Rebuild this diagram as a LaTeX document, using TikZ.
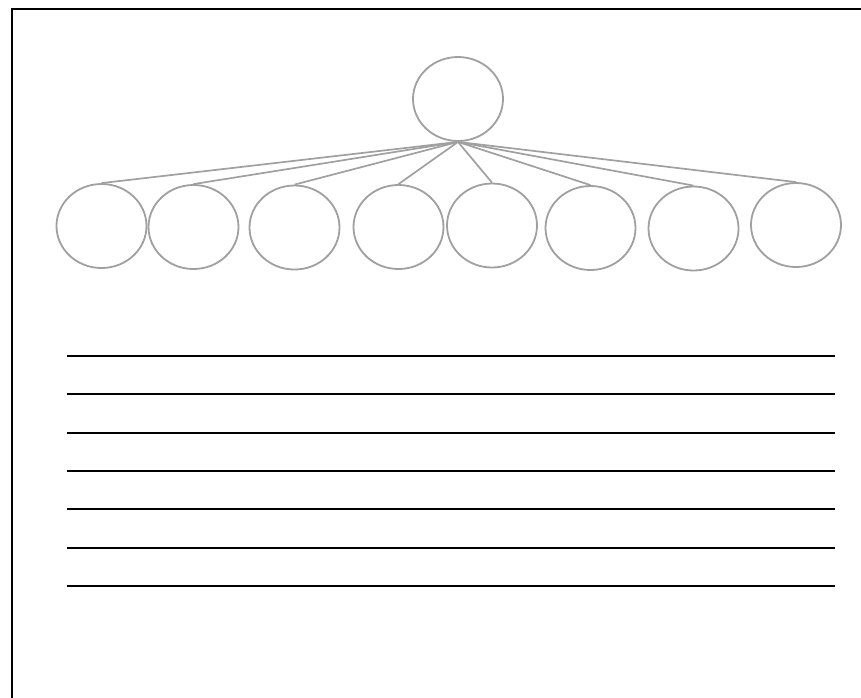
\documentclass[tikz,border=0pt]{standalone}
\usetikzlibrary{shapes.geometric}
\definecolor{circgray}{HTML}{A0A0A0}
\begin{document}
\begin{tikzpicture}[x=1pt,y=-1pt,
  bub/.style={ellipse,draw=circgray,line width=1.8pt,minimum width=90pt,minimum height=84pt,inner sep=0pt},
  conn/.style={draw=circgray,line width=1.7pt},
  rule/.style={draw=black,line width=2pt}]
\useasboundingbox (0,0) rectangle (861,697);
\clip (0,0) rectangle (861,697);
\fill[white] (0,0) rectangle (861,697);
\draw[line width=2.2pt] (12,9) rectangle (880,720);
\node[bub] (top) at (458,99) {};
\foreach \i/\x/\y in {1/101.5/226,2/193.5/227,3/294.5/227.5,4/398.5/227,5/492/225.5,6/590.5/228,7/693.5/228.5,8/796/225}{
  \node[bub] (c\i) at (\x,\y) {};
}
\foreach \i in {1,...,8}{
  \draw[conn] (top.south) -- (c\i.north);
}
\foreach \j/\y in {1/356,2/394,3/433,4/471,5/509,6/548,7/586}{
  \coordinate (l\j) at (67,\y);
  \coordinate (r\j) at (835,\y);
  \draw[rule] (l\j) -- (r\j);
}
\end{tikzpicture}
\end{document}
